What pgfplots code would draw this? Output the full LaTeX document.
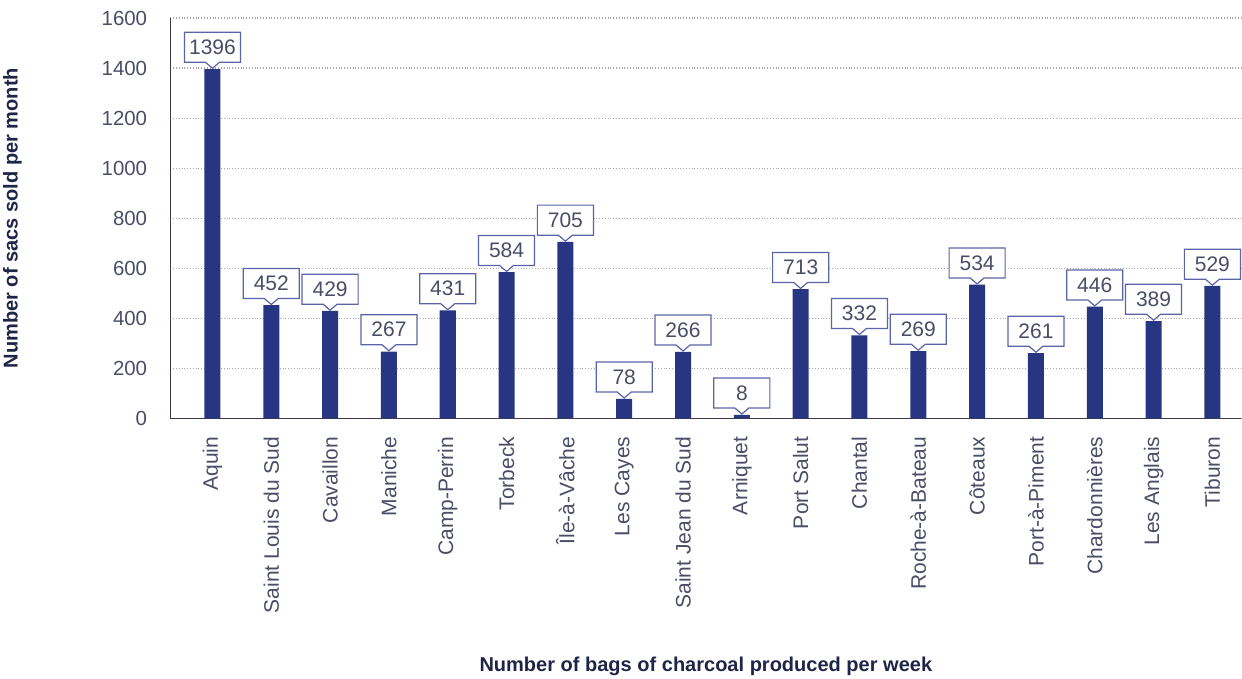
\documentclass[border=0pt]{standalone}
\usepackage{fontspec}
\setmainfont{Liberation Sans}
\usepackage{pgfplots}
\pgfplotsset{compat=1.18}
\usepackage{pgfplotstable}
\usetikzlibrary{shapes.callouts}

\definecolor{barcol}{HTML}{283583}
\definecolor{boxcol}{HTML}{5A64A8}
\definecolor{tickcol}{HTML}{4A4D66}
\definecolor{labcol}{HTML}{1F2547}
\definecolor{axiscol}{HTML}{3A3A4F}
\definecolor{gridcol}{HTML}{A8A8A8}

\pgfplotstableread{
x y lab
0 1396 1396
1 452 452
2 429 429
3 267 267
4 431 431
5 584 584
6 705 705
7 78 78
8 266 266
9 14 8
10 516 713
11 332 332
12 269 269
13 534 534
14 261 261
15 446 446
16 389 389
17 529 529
}\data

\begin{document}
\begin{tikzpicture}
\begin{axis}[
  scale only axis,
  width=535pt, height=200pt,
  xmin=-0.714, xmax=17.49,
  ymin=0, ymax=1600,
  ybar, bar width=8pt,
  axis x line=bottom, axis y line=left,
  axis line style={draw=axiscol, line width=0.8pt, -},
  major tick length=0pt,
  ytick={0,200,...,1600},
  xtick={0,...,17},
  xticklabels={Aquin, Saint Louis du Sud, Cavaillon, Maniche, Camp-Perrin, Torbeck, Île-à-Vâche, Les Cayes, Saint Jean du Sud, Arniquet, Port Salut, Chantal, Roche-à-Bateau, Côteaux, Port-à-Piment, Chardonnières, Les Anglais, Tiburon},
  x tick label style={rotate=90, anchor=east, inner xsep=9pt, font=\fontsize{10.5}{12}\selectfont, text=tickcol},
  y tick label style={anchor=east, inner xsep=11.5pt, inner ysep=5.4pt, font=\fontsize{10.2}{12}\selectfont, text=tickcol},
  /pgf/number format/assume math mode=true,
  /pgf/number format/1000 sep={},
  ymajorgrids,
  grid style={densely dotted, gridcol, line width=0.6pt},
  xlabel={Number of bags of charcoal produced per week},
  ylabel={Number of sacs sold per month},
  every axis x label/.style={at={(axis description cs:0.5,-0.62)}, anchor=center, font=\bfseries\fontsize{10}{12}\selectfont, text=labcol, inner ysep=1.5pt},
  every axis y label/.style={at={(axis description cs:-0.1477,0.5)}, rotate=90, anchor=center, font=\bfseries\fontsize{10}{12}\selectfont, text=labcol, inner ysep=1.5pt},
  clip=false,
  point meta=explicit symbolic,
  nodes near coords,
  nodes near coords style={rectangle callout, draw=boxcol, fill=white, line width=0.6pt,
    minimum width=28pt, minimum height=15pt, inner sep=0pt,
    callout relative pointer={(0pt,-3pt)}, callout pointer width=7pt,
    anchor=pointer, font=\fontsize{10.5}{12}\selectfont, text=tickcol},
]
\addplot[fill=barcol, draw=none] table[x=x, y=y, meta=lab] {\data};
\end{axis}
\end{tikzpicture}
\end{document}
